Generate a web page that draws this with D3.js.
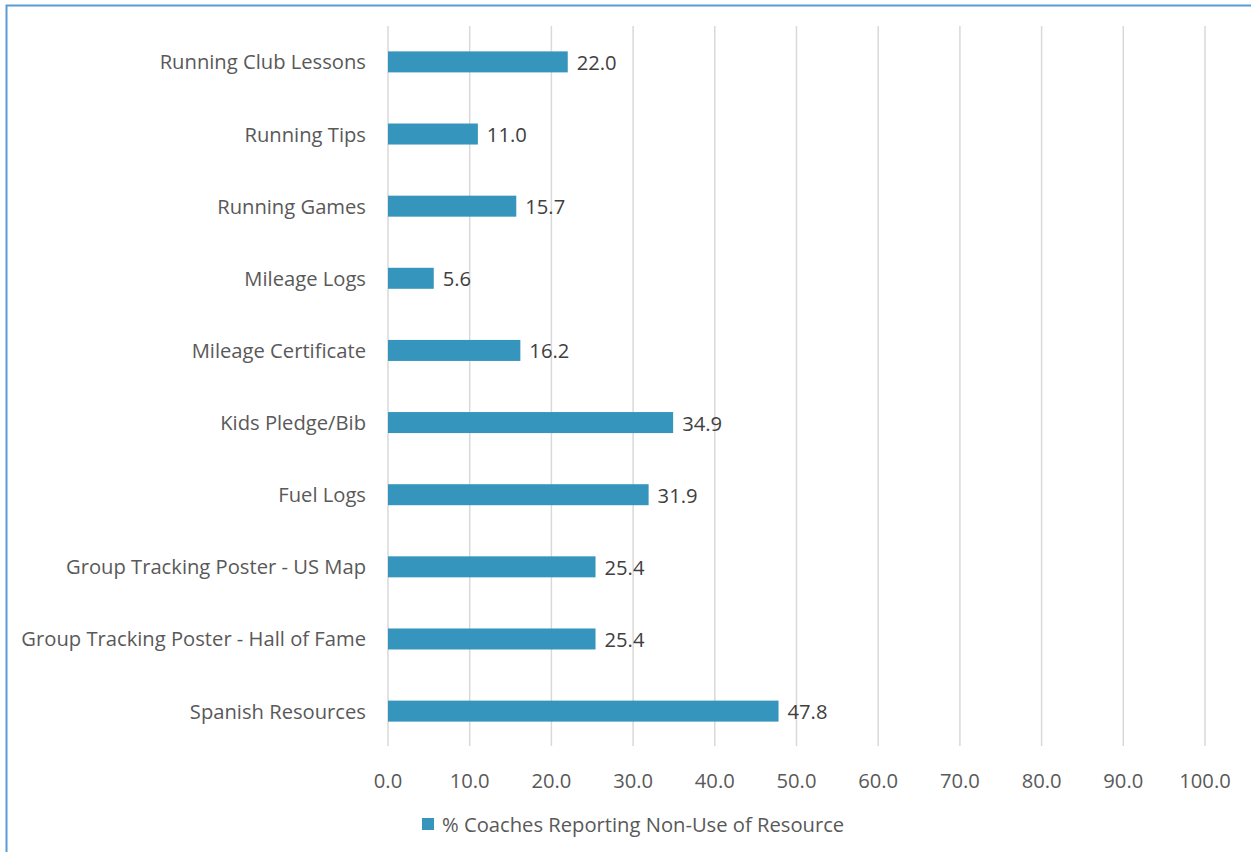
<!DOCTYPE html>
<html>
<head>
<meta charset="utf-8">
<script src="https://cdn.jsdelivr.net/npm/d3@7"></script>
<style>
  body { margin: 0; background: #fff; }
  svg { display: block; }
</style>
</head>
<body>
<script>
var w = 1251;
var h = 852;

// categories, top to bottom
var categories = [
  "Running Club Lessons",
  "Running Tips",
  "Running Games",
  "Mileage Logs",
  "Mileage Certificate",
  "Kids Pledge/Bib",
  "Fuel Logs",
  "Group Tracking Poster - US Map",
  "Group Tracking Poster - Hall of Fame",
  "Spanish Resources"
];
var values = [22.0, 11.0, 15.7, 5.6, 16.2, 34.9, 31.9, 25.4, 25.4, 47.8];
var xTicks = [0, 10, 20, 30, 40, 50, 60, 70, 80, 90, 100];
var seriesName = "% Coaches Reporting Non-Use of Resource";

var font = "'Open Sans', sans-serif";
var fs = 20.2;

var svg = d3.select("body")
  .append("svg")
    .attr("width", w)
    .attr("height", h);

// chart border (runs off the right and bottom edges)
svg.append("rect")
  .attr("x", 6.5)
  .attr("y", 5.5)
  .attr("width", 1300)
  .attr("height", 900)
  .attr("fill", "none")
  .attr("stroke", "#5b9bd5")
  .attr("stroke-width", 2);

var x = d3.scaleLinear()
  .domain([0, 100])
  .range([388, 1205]);

var y = d3.scaleBand()
  .domain(categories)
  .range([26, 747])
  .paddingInner(0.705)
  .paddingOuter(0.35);

var gridTop = 26, gridBottom = 746;

// vertical gridlines
svg.append("g")
  .selectAll("line")
  .data(xTicks)
  .enter()
  .append("line")
    .attr("x1", function(d) { return x(d); })
    .attr("x2", function(d) { return x(d); })
    .attr("y1", gridTop)
    .attr("y2", gridBottom)
    .attr("stroke", "#d9d9d9")
    .attr("stroke-width", 1.5);

// x tick labels
svg.append("g")
  .selectAll("text")
  .data(xTicks)
  .enter()
  .append("text")
    .attr("x", function(d) { return x(d); })
    .attr("y", 787.5)
    .attr("text-anchor", "middle")
    .attr("font-family", font)
    .attr("font-size", fs)
    .attr("fill", "#595959")
    .text(function(d) { return d3.format(".1f")(d); });

// bars
var bw = 21;
svg.append("g")
  .selectAll("rect")
  .data(values)
  .enter()
  .append("rect")
    .attr("x", x(0))
    .attr("y", function(d, i) { return y(categories[i]) + y.bandwidth() / 2 - bw / 2; })
    .attr("width", function(d) { return x(d) - x(0); })
    .attr("height", bw)
    .attr("fill", "#3595bc");

// value labels
svg.append("g")
  .selectAll("text")
  .data(values)
  .enter()
  .append("text")
    .attr("x", function(d) { return x(d) + 9; })
    .attr("y", function(d, i) { return y(categories[i]) + y.bandwidth() / 2 + 8; })
    .attr("font-family", font)
    .attr("font-size", fs)
    .attr("fill", "#404040")
    .text(function(d) { return d3.format(".1f")(d); });

// category labels
svg.append("g")
  .selectAll("text")
  .data(categories)
  .enter()
  .append("text")
    .attr("x", 366)
    .attr("y", function(d) { return y(d) + y.bandwidth() / 2 + 7.5; })
    .attr("text-anchor", "end")
    .attr("font-family", font)
    .attr("font-size", fs)
    .attr("fill", "#595959")
    .text(function(d) { return d; });

// legend
var legend = svg.append("g");
legend.append("rect")
  .attr("x", 422)
  .attr("y", 818)
  .attr("width", 12)
  .attr("height", 12)
  .attr("fill", "#3595bc");
legend.append("text")
  .attr("x", 442)
  .attr("y", 831.5)
  .attr("font-family", font)
  .attr("font-size", fs)
  .attr("fill", "#595959")
  .text(seriesName);
</script>
</body>
</html>
